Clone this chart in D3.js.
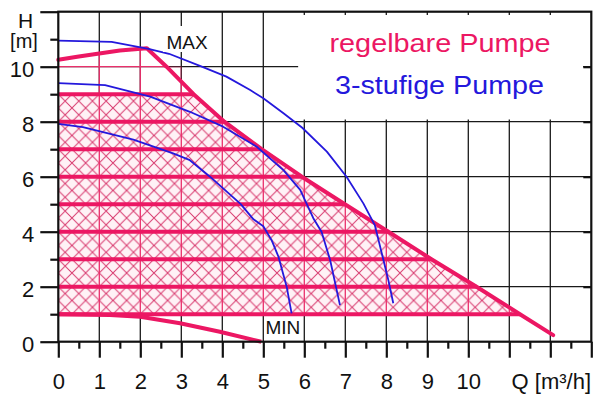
<!DOCTYPE html>
<html>
<head>
<meta charset="utf-8">
<script src="https://cdn.jsdelivr.net/npm/d3@7"></script>
<style>
  body { margin: 0; background: #fff; }
  svg { display: block; font-family: "Liberation Sans", Arial, sans-serif; }
</style>
</head>
<body>
<svg id="chart" width="600" height="398"></svg>
<script>
// Förderhöhe H [m] over Volumenstrom Q [m³/h]
const qTicks = d3.range(0, 14);          // major ticks on the Q axis
const qMinor = d3.range(0.5, 13, 1);     // half steps
const hTicks = [0, 2, 4, 6, 8, 10, 12];  // major ticks on the H axis
const hMinor = [1, 3, 5, 7, 9, 11];
const hatchLevels = [1, 2, 3, 4, 5, 6, 7, 8, 9]; // thick lines of the regulated pump

// regelbare Pumpe: MAX envelope [Q, H]
const maxCurve = [[0, 10.25], [0.5, 10.37], [1, 10.48], [1.5, 10.59], [2.16, 10.67],
  [2.64, 10.0], [3.3, 9.0], [4.05, 8.0], [4.96, 7.0], [5.94, 6.0], [6.99, 5.0],
  [8.05, 4.0], [9.1, 3.0], [10.2, 2.0], [11.26, 1.0], [12.07, 0.24]];
// regelbare Pumpe: MIN curve
const minCurve = [[0, 1.0], [1.26, 0.97], [2.0, 0.91], [2.97, 0.67], [3.94, 0.36], [4.95, 0.0]];

// 3-stufige Pumpe, one array per stage
const stage1 = [[0, 7.92], [0.6, 7.8], [1.83, 7.35], [2.8, 6.85], [3.21, 6.6], [3.7, 6.0],
  [4.45, 5.0], [4.76, 4.45], [5.0, 4.2], [5.2, 3.7], [5.37, 3.09], [5.57, 2.0], [5.69, 1.03]];
const stage2 = [[0, 9.4], [1.14, 9.33], [2.24, 8.91], [3.21, 8.36], [4.02, 7.82], [4.84, 7.09],
  [5.49, 6.24], [5.9, 5.52], [6.22, 4.49], [6.42, 4.0], [6.63, 2.97], [6.87, 1.33]];
const stage3 = [[0, 10.95], [1.3, 10.9], [2.2, 10.65], [2.7, 10.47], [3.5, 10.0], [4.1, 9.64],
  [4.68, 9.15], [5.0, 8.85], [5.5, 8.3], [5.95, 7.78], [6.55, 6.91], [7.03, 6.0], [7.44, 5.03],
  [7.72, 4.24], [7.93, 2.97], [8.05, 2.24], [8.17, 1.4]];

const pink = '#ec1763';
const blue = '#2418dc';
const ink = '#111';

const svg = d3.select('#chart');
const x = d3.scaleLinear().domain([0, 13]).range([58.3, 591.3]);
const y = d3.scaleLinear().domain([0, 12]).range([341.7, 11.7]);
const line = d3.line().x(d => x(d[0])).y(d => y(d[1]));

// Q where the descending part of the MAX curve reaches height h
function qAt(h) {
  for (let i = 1; i < maxCurve.length; i++) {
    const a = maxCurve[i - 1], b = maxCurve[i];
    if (a[1] >= h && b[1] <= h && a[1] !== b[1]) {
      return a[0] + (a[1] - h) / (a[1] - b[1]) * (b[0] - a[0]);
    }
  }
  return 0;
}

svg.append('rect').attr('width', 600).attr('height', 398).attr('fill', '#fff');

// hatch pattern: diamonds a third of a Q step wide, half an H step high
const defs = svg.append('defs');
const pw = (x(1) - x(0)) / 3, ph = (y(0) - y(1)) / 2;
const pat = defs.append('pattern').attr('id', 'hatch')
  .attr('patternUnits', 'userSpaceOnUse')
  .attr('x', x(0)).attr('y', y(0))
  .attr('width', pw).attr('height', ph);
pat.append('rect').attr('width', pw).attr('height', ph).attr('fill', '#fff2f6');
pat.append('path')
  .attr('d', `M0,0L${pw},${ph}M0,${ph}L${pw},0`)
  .attr('stroke', '#d83a6e').attr('stroke-width', 1);

// region where the grid is drawn pink
const underMax = [[0, 1]].concat(maxCurve.filter(d => d[1] > 1), [[qAt(1), 1]]);
const clip = defs.append('clipPath').attr('id', 'pinkClip');
clip.append('path').attr('d', line(underMax) + 'Z');
clip.append('rect')
  .attr('x', x(0)).attr('y', y(10))
  .attr('width', x(3) - x(0)).attr('height', y(1) - y(10));

function drawGrid(g, color) {
  g.selectAll('line.v').data(d3.range(1, 13)).join('line').attr('class', 'v')
    .attr('x1', d => x(d)).attr('x2', d => x(d))
    .attr('y1', y(0)).attr('y2', y(12))
    .attr('stroke', color).attr('stroke-width', 1.3);
  g.selectAll('line.h').data([2, 4, 6, 8, 10]).join('line').attr('class', 'h')
    .attr('x1', x(0)).attr('x2', x(13))
    .attr('y1', d => y(d)).attr('y2', d => y(d))
    .attr('stroke', color).attr('stroke-width', 1.3);
}

drawGrid(svg.append('g'), '#1a1a1a');

// hatched working area of the regulated pump
const hatchPoly = [[0, 1], [0, 9], [qAt(9), 9]]
  .concat(maxCurve.filter(d => d[1] < 9 && d[1] > 1), [[qAt(1), 1]]);
svg.append('path').attr('d', line(hatchPoly) + 'Z').attr('fill', 'url(#hatch)');

drawGrid(svg.append('g').attr('clip-path', 'url(#pinkClip)'), '#ea2f6b');

// white box behind the legend
svg.append('rect')
  .attr('x', x(5.85)).attr('y', y(11.88))
  .attr('width', x(12.8) - x(5.85)).attr('height', y(8.08) - y(11.88))
  .attr('fill', '#fff');

// thick horizontal lines
svg.append('g').selectAll('line').data(hatchLevels).join('line')
  .attr('x1', x(0)).attr('x2', d => x(qAt(d)))
  .attr('y1', d => y(d)).attr('y2', d => y(d))
  .attr('stroke', pink).attr('stroke-width', 4);

svg.append('path').attr('d', line(maxCurve))
  .attr('fill', 'none').attr('stroke', pink).attr('stroke-width', 4)
  .attr('stroke-linejoin', 'round').attr('stroke-linecap', 'round');
svg.append('path').attr('d', line(minCurve))
  .attr('fill', 'none').attr('stroke', pink).attr('stroke-width', 4)
  .attr('stroke-linejoin', 'round');

svg.append('g').selectAll('path').data([stage1, stage2, stage3]).join('path')
  .attr('d', d => line(d))
  .attr('fill', 'none').attr('stroke', blue).attr('stroke-width', 1.8)
  .attr('stroke-linejoin', 'round');

// axes
function styleAxis(g, size) {
  g.select('.domain').remove();
  g.attr('font-family', null).attr('font-size', size);
  g.selectAll('.tick line').attr('stroke', ink).attr('stroke-width', 2.2);
  g.selectAll('.tick text').attr('fill', ink);
}

svg.append('g').attr('transform', `translate(${x(0)},0)`)
  .call(d3.axisLeft(y).tickValues(hTicks).tickSize(18).tickPadding(6)
    .tickFormat(d => (d <= 10 ? d : '')))
  .call(g => styleAxis(g, 22))
  .call(g => g.selectAll('.tick text').attr('dy', '0.45em'));
svg.append('g').attr('transform', `translate(${x(0)},0)`)
  .call(d3.axisLeft(y).tickValues(hMinor).tickSize(8).tickFormat(''))
  .call(g => styleAxis(g, 22));
svg.append('g').attr('transform', `translate(${x(13)},0)`)
  .call(d3.axisLeft(y).tickValues([2, 4, 6, 8, 10]).tickSize(8).tickFormat(''))
  .call(g => styleAxis(g, 22));

svg.append('g').attr('transform', `translate(0,${y(0)})`)
  .call(d3.axisBottom(x).tickValues(qTicks).tickSize(16).tickPadding(15.6)
    .tickFormat(d => (d <= 10 ? d : '')))
  .call(g => styleAxis(g, 22));
svg.append('g').attr('transform', `translate(0,${y(0)})`)
  .call(d3.axisBottom(x).tickValues(qMinor).tickSize(7).tickFormat(''))
  .call(g => styleAxis(g, 22));

// frame
svg.append('rect')
  .attr('x', x(0)).attr('y', y(12))
  .attr('width', x(13) - x(0)).attr('height', y(0) - y(12))
  .attr('fill', 'none').attr('stroke', ink).attr('stroke-width', 2.2);

// labels
svg.append('rect').attr('x', 163).attr('y', 26).attr('width', 48).attr('height', 26).attr('fill', '#fff');
svg.append('text').attr('x', 166.5).attr('y', 49).attr('font-size', 19).attr('fill', ink).text('MAX');
svg.append('text').attr('x', 265.5).attr('y', 333.5).attr('font-size', 19).attr('fill', ink).text('MIN');

svg.append('text').attr('x', 25.5).attr('y', 27.5).attr('text-anchor', 'middle')
  .attr('font-size', 21).attr('fill', ink).text('H');
svg.append('text').attr('x', 24).attr('y', 48).attr('text-anchor', 'middle')
  .attr('font-size', 20).attr('fill', ink).text('[m]');
svg.append('text').attr('x', 591).attr('y', 388.9).attr('text-anchor', 'end')
  .attr('font-size', 22).attr('fill', ink).text('Q [m³/h]');

svg.append('text').attr('x', 329.5).attr('y', 51.7)
  .attr('font-size', 26).attr('fill', pink)
  .attr('textLength', 221).attr('lengthAdjust', 'spacingAndGlyphs')
  .text('regelbare Pumpe');
svg.append('text').attr('x', 335).attr('y', 93.5)
  .attr('font-size', 26).attr('fill', blue)
  .attr('textLength', 209).attr('lengthAdjust', 'spacingAndGlyphs')
  .text('3-stufige Pumpe');
</script>
</body>
</html>
